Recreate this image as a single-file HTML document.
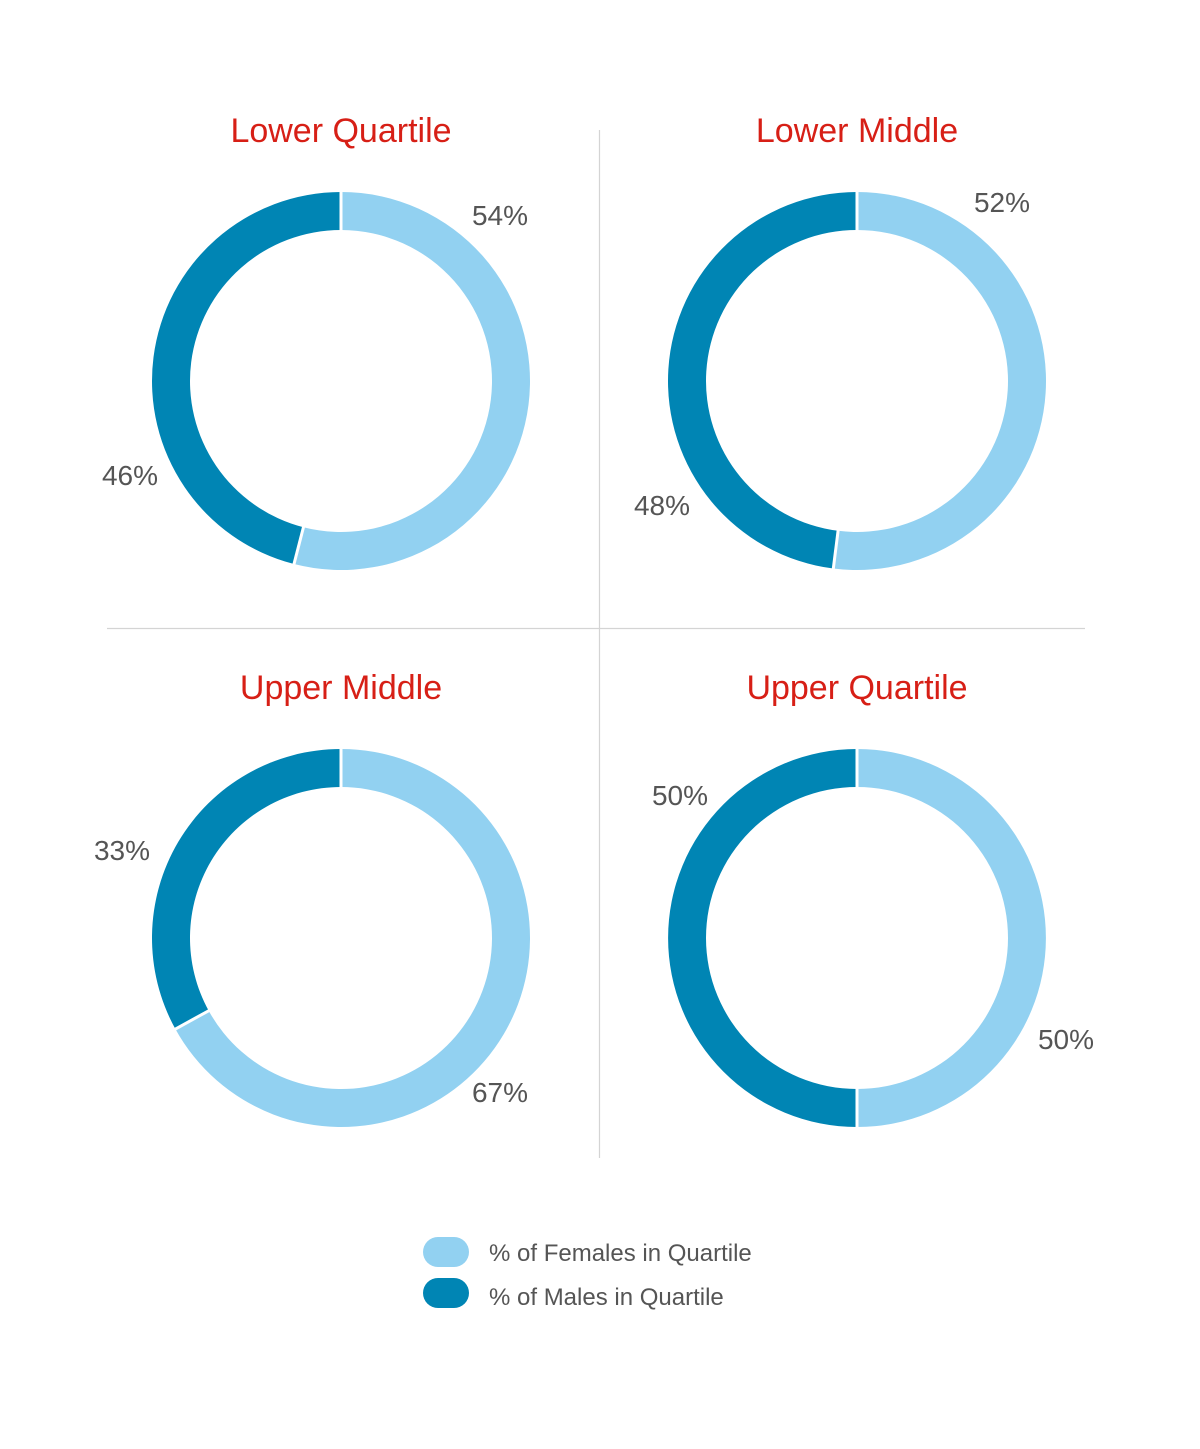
<!DOCTYPE html>
<html><head><meta charset="utf-8">
<style>
html,body{margin:0;padding:0;background:#fff;}
svg{display:block;}
text{font-family:"Liberation Sans",sans-serif;}
</style></head>
<body>
<svg id="chart" width="1200" height="1449" viewBox="0 0 1200 1449" xmlns="http://www.w3.org/2000/svg">
  <line x1="599.5" y1="130" x2="599.5" y2="1158" stroke="#d4d4d4" stroke-width="1.2"/>
  <line x1="107" y1="628.5" x2="1085" y2="628.5" stroke="#d4d4d4" stroke-width="1.2"/>
  <g>
    <rect x="423" y="1237" width="46" height="30" rx="15" fill="#92d1f1"/>
    <text x="489" y="1261" font-size="24" fill="#555">% of Females in Quartile</text>
    <rect x="423" y="1278" width="46" height="30" rx="15" fill="#0085b4"/>
    <text x="489" y="1305" font-size="24" fill="#555">% of Males in Quartile</text>
  </g>
</svg>
<script>
const categories = ["Lower Quartile", "Lower Middle", "Upper Middle", "Upper Quartile"];
const femaleValues = [54, 52, 67, 50];
const maleValues = [46, 48, 33, 50];
const femaleLabels = ["54%", "52%", "67%", "50%"];
const maleLabels = ["46%", "48%", "33%", "50%"];

const svg = document.getElementById('chart');
const NS = 'http://www.w3.org/2000/svg';
const centers = [[341,381],[857,381],[341,938],[857,938]];
const R = 189, r = 151;
// label anchor positions (layout, not data)
const fLabelPos = [[500,225],[1002,212],[500,1102],[1066,1049]];
const mLabelPos = [[130,485],[662,515],[122,860],[680,805]];

function polar(cx, cy, rad, frac){
  const a = frac * 2 * Math.PI;
  return [cx + rad * Math.sin(a), cy - rad * Math.cos(a)];
}
function arcPath(cx, cy, f0, f1){
  const large = (f1 - f0) > 0.5 ? 1 : 0;
  const [x0,y0] = polar(cx,cy,R,f0), [x1,y1] = polar(cx,cy,R,f1);
  const [x2,y2] = polar(cx,cy,r,f1), [x3,y3] = polar(cx,cy,r,f0);
  return `M${x0},${y0} A${R},${R} 0 ${large} 1 ${x1},${y1} L${x2},${y2} A${r},${r} 0 ${large} 0 ${x3},${y3} Z`;
}
function sepLine(cx, cy, f){
  const [x0,y0] = polar(cx,cy,r-1,f), [x1,y1] = polar(cx,cy,R+1,f);
  const l = document.createElementNS(NS,'line');
  l.setAttribute('x1',x0); l.setAttribute('y1',y0); l.setAttribute('x2',x1); l.setAttribute('y2',y1);
  l.setAttribute('stroke','#fff'); l.setAttribute('stroke-width','3');
  
  
  return l;
}

categories.forEach((cat, i) => {
  const [cx, cy] = centers[i];
  const g = document.createElementNS(NS,'g');
  
  
  const total = femaleValues[i] + maleValues[i];
  const ff = femaleValues[i] / total;

  const t = document.createElementNS(NS,'text');
  
  
  t.setAttribute('x', cx); t.setAttribute('y', cy - 239);
  t.setAttribute('text-anchor','middle'); t.setAttribute('font-size','34');
  t.setAttribute('fill','#d71f16');
  t.textContent = cat;
  g.appendChild(t);

  const pf = document.createElementNS(NS,'path');
  
  
  pf.setAttribute('d', arcPath(cx, cy, 0, ff));
  pf.setAttribute('fill','#92d1f1');
  g.appendChild(pf);

  const pm = document.createElementNS(NS,'path');
  
  
  pm.setAttribute('d', arcPath(cx, cy, ff, 1));
  pm.setAttribute('fill','#0085b4');
  g.appendChild(pm);

  g.appendChild(sepLine(cx, cy, 0));
  g.appendChild(sepLine(cx, cy, ff));

  const lf = document.createElementNS(NS,'text');
  
  
  lf.setAttribute('x', fLabelPos[i][0]); lf.setAttribute('y', fLabelPos[i][1]);
  lf.setAttribute('text-anchor','middle'); lf.setAttribute('font-size','28'); lf.setAttribute('fill','#555');
  lf.textContent = femaleLabels[i];
  g.appendChild(lf);

  const lm = document.createElementNS(NS,'text');
  
  
  lm.setAttribute('x', mLabelPos[i][0]); lm.setAttribute('y', mLabelPos[i][1]);
  lm.setAttribute('text-anchor','middle'); lm.setAttribute('font-size','28'); lm.setAttribute('fill','#555');
  lm.textContent = maleLabels[i];
  g.appendChild(lm);

  svg.appendChild(g);
});
</script>
</body></html>
